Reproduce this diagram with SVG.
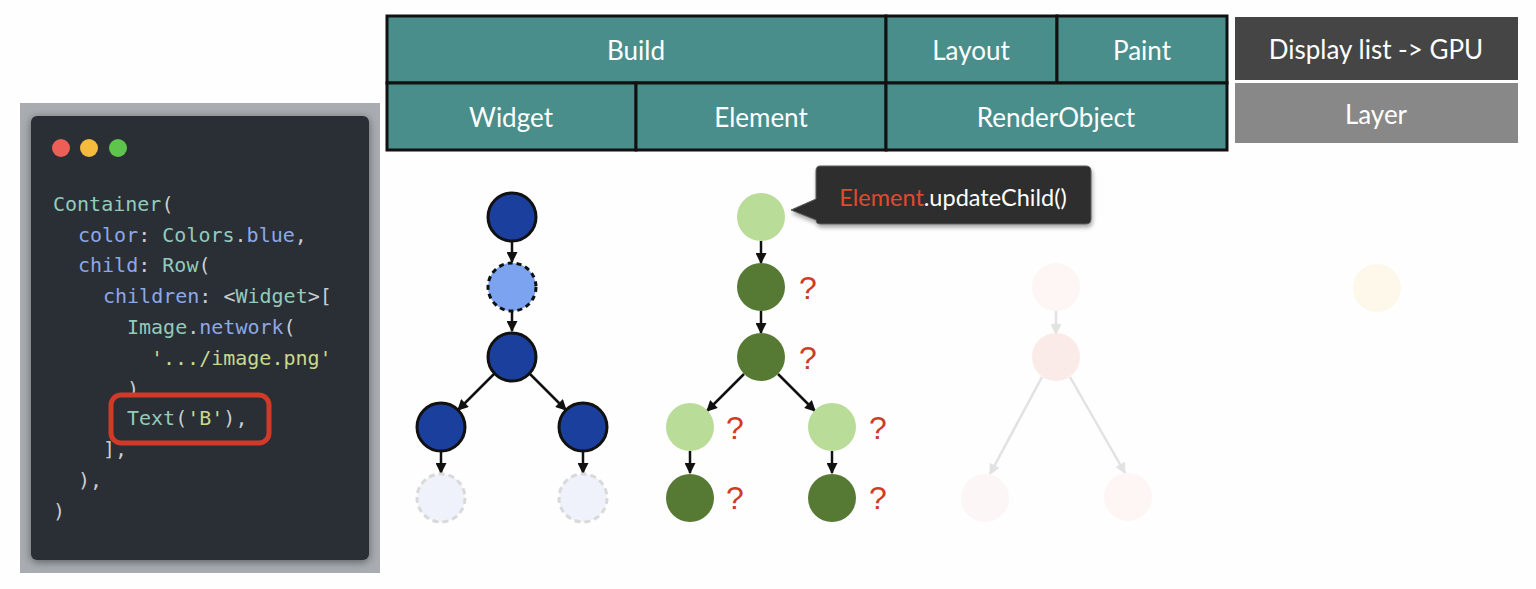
<svg xmlns="http://www.w3.org/2000/svg" width="1536" height="589" viewBox="0 0 1536 589">
<style>
.hdr{fill:#4a8e8b;stroke:#111;stroke-width:3}
.ht{font-family:Lato,"Open Sans",sans-serif;font-size:26px;font-weight:400;fill:#fff;text-anchor:middle}
.code{font-family:"DejaVu Sans Mono","Liberation Mono",monospace;font-size:20px;white-space:pre}
.t{fill:#93cbbb}.b{fill:#8ea8e6}.y{fill:#c8da8c}.p{fill:#c9cdd2}
.wn{fill:#1b3f9c;stroke:#111;stroke-width:3}
.eL{fill:#b9dc98}.eD{fill:#567a34}
.q{font-family:"Liberation Sans",Arial,sans-serif;font-size:32px;fill:#cf3b25;text-anchor:middle}
.ar{stroke:#111;stroke-width:2.5;fill:none;marker-end:url(#ah)}
.arf{stroke:#e2e2e2;stroke-width:2.5;fill:none;marker-end:url(#ahf)}
</style>
<defs>
<marker id="ah" viewBox="0 0 10 10" refX="9" refY="5" markerWidth="4.4" markerHeight="4.4" orient="auto" markerUnits="strokeWidth">
<path d="M0,0 L10,5 L0,10 z" fill="#111"/>
</marker>
<marker id="ahf" viewBox="0 0 10 10" refX="9" refY="5" markerWidth="4.4" markerHeight="4.4" orient="auto" markerUnits="strokeWidth">
<path d="M0,0 L10,5 L0,10 z" fill="#e2e2e2"/>
</marker>
<filter id="sh" x="-10%" y="-10%" width="120%" height="130%">
<feDropShadow dx="1" dy="3" stdDeviation="2" flood-color="#000" flood-opacity="0.35"/>
</filter>
<filter id="psh" x="-10%" y="-10%" width="120%" height="120%">
<feDropShadow dx="0" dy="2" stdDeviation="4" flood-color="#000" flood-opacity="0.45"/>
</filter>
</defs>
<rect width="1536" height="589" fill="#fefefe"/>

<!-- code panel -->
<g id="code-panel">
<rect x="20" y="103" width="360" height="470" fill="#a8acb1"/>
<rect x="31" y="116" width="338" height="444" rx="6" fill="#2a2f36" filter="url(#psh)"/>
<circle cx="61" cy="148" r="9" fill="#ec5f56"/>
<circle cx="89" cy="148" r="9" fill="#f4bb3d"/>
<circle cx="118" cy="148" r="9" fill="#5fc44c"/>
<text class="code" x="53" y="211"><tspan class="t">Container</tspan><tspan class="p">(</tspan></text>
<text class="code" x="78" y="242"><tspan class="b">color</tspan><tspan class="p">: </tspan><tspan class="t">Colors</tspan><tspan class="p">.</tspan><tspan class="b">blue</tspan><tspan class="p">,</tspan></text>
<text class="code" x="78" y="272"><tspan class="b">child</tspan><tspan class="p">: </tspan><tspan class="t">Row</tspan><tspan class="p">(</tspan></text>
<text class="code" x="103" y="303"><tspan class="b">children</tspan><tspan class="p">: &lt;</tspan><tspan class="t">Widget</tspan><tspan class="p">&gt;[</tspan></text>
<text class="code" x="127" y="334"><tspan class="t">Image</tspan><tspan class="p">.</tspan><tspan class="b">network</tspan><tspan class="p">(</tspan></text>
<text class="code" x="151" y="365"><tspan class="y">'.../image.png'</tspan></text>
<text class="code p" x="127" y="396">)</text>
<rect id="highlight" x="111" y="395" width="158" height="48" rx="10" fill="#2a2f36" stroke="#d03a28" stroke-width="5"/>
<text class="code" x="127" y="425"><tspan class="t">Text</tspan><tspan class="p">(</tspan><tspan class="y">'B'</tspan><tspan class="p">),</tspan></text>
<text class="code p" x="103" y="456">],</text>
<text class="code p" x="78" y="487">),</text>
<text class="code p" x="53" y="518">)</text>
</g>

<!-- header table -->
<g id="hdr-build"><rect class="hdr" x="387" y="16" width="499" height="67"/><text class="ht" x="636" y="60">Build</text></g>
<g id="hdr-layout"><rect class="hdr" x="886" y="16" width="171" height="67"/><text class="ht" x="971" y="60">Layout</text></g>
<g id="hdr-paint"><rect class="hdr" x="1057" y="16" width="170" height="67"/><text class="ht" x="1142" y="60">Paint</text></g>
<g id="hdr-widget"><rect class="hdr" x="387" y="83" width="249" height="67"/><text class="ht" x="511" y="127">Widget</text></g>
<g id="hdr-element"><rect class="hdr" x="636" y="83" width="250" height="67"/><text class="ht" x="761" y="127">Element</text></g>
<g id="hdr-renderobject"><rect class="hdr" x="886" y="83" width="341" height="67"/><text class="ht" x="1056" y="127">RenderObject</text></g>
<g id="hdr-display"><rect x="1235" y="17" width="283" height="63" fill="#454545"/><text class="ht" x="1376" y="59">Display list -&gt; GPU</text></g>
<g id="hdr-layer"><rect x="1235" y="83" width="283" height="60" fill="#888888"/><text class="ht" x="1376" y="124">Layer</text></g>

<!-- connectors -->
<g id="connectors">
<line class="ar" x1="512" y1="241" x2="512" y2="262"/>
<line class="ar" x1="512" y1="311" x2="512" y2="331"/>
<line class="ar" x1="495" y1="373" x2="458" y2="410"/>
<line class="ar" x1="529" y1="373" x2="566" y2="410"/>
<line class="ar" x1="441" y1="451" x2="441" y2="473"/>
<line class="ar" x1="583" y1="451" x2="583" y2="473"/>
<line class="ar" x1="761" y1="241" x2="761" y2="263"/>
<line class="ar" x1="761" y1="311" x2="761" y2="333"/>
<line class="ar" x1="744" y1="374" x2="707" y2="411"/>
<line class="ar" x1="778" y1="374" x2="815" y2="411"/>
<line class="ar" x1="690" y1="451" x2="690" y2="473"/>
<line class="ar" x1="832" y1="451" x2="832" y2="473"/>
<line class="arf" x1="1056" y1="309" x2="1056" y2="334"/>
<line class="arf" x1="1042" y1="377" x2="990" y2="474"/>
<line class="arf" x1="1070" y1="377" x2="1125" y2="473"/>
</g>

<!-- widget tree -->
<g id="w1"><circle class="wn" cx="512" cy="217" r="24"/></g>
<g id="w2"><circle cx="512" cy="287" r="24" fill="#7ba3f0" stroke="#111" stroke-width="3" stroke-dasharray="5 4"/></g>
<g id="w3"><circle class="wn" cx="512" cy="357" r="24"/></g>
<g id="w4"><circle class="wn" cx="441" cy="427" r="24"/></g>
<g id="w5"><circle class="wn" cx="583" cy="427" r="24"/></g>
<g id="w6"><circle cx="441" cy="498" r="24" fill="#eff2fb" stroke="#d9d9d9" stroke-width="3" stroke-dasharray="6 4"/></g>
<g id="w7"><circle cx="583" cy="498" r="24" fill="#eff2fb" stroke="#d9d9d9" stroke-width="3" stroke-dasharray="6 4"/></g>

<!-- element tree -->
<g id="e1"><circle class="eL" cx="761" cy="217" r="24"/></g>
<g id="e2"><circle class="eD" cx="761" cy="287" r="24"/><text class="q" x="808" y="299">?</text></g>
<g id="e3"><circle class="eD" cx="761" cy="357" r="24"/><text class="q" x="808" y="369">?</text></g>
<g id="e4"><circle class="eL" cx="690" cy="427" r="24"/><text class="q" x="735" y="439">?</text></g>
<g id="e5"><circle class="eL" cx="832" cy="427" r="24"/><text class="q" x="878" y="439">?</text></g>
<g id="e6"><circle class="eD" cx="690" cy="498" r="24"/><text class="q" x="735" y="509">?</text></g>
<g id="e7"><circle class="eD" cx="832" cy="498" r="24"/><text class="q" x="878" y="509">?</text></g>

<!-- tooltip -->
<g id="tooltip">
<path d="M820,166 H1086 Q1091,166 1091,171 V219 Q1091,224 1086,224 H820 Q816,224 816,220 L791,210 L816,199 V171 Q816,166 820,166 Z" fill="#2f2f2f" stroke="#5a5a5a" stroke-width="1" filter="url(#sh)"/>
<text x="953" y="206" font-family="Lato,'Open Sans',sans-serif" font-size="23.5" text-anchor="middle"><tspan fill="#e04a2f">Element</tspan><tspan fill="#ffffff">.updateChild()</tspan></text>
</g>

<!-- render object tree (faded) -->
<g id="r1"><circle cx="1056" cy="287" r="24" fill="#fdf6f5"/></g>
<g id="r2"><circle cx="1056" cy="357" r="24" fill="#fbebe8"/></g>
<g id="r3"><circle cx="985" cy="498" r="24" fill="#fdf6f6"/></g>
<g id="r4"><circle cx="1128" cy="497" r="24" fill="#fdf6f5"/></g>

<!-- layer node (faded) -->
<g id="l1"><circle cx="1377" cy="288" r="24" fill="#fdf8ea"/></g>
</svg>
